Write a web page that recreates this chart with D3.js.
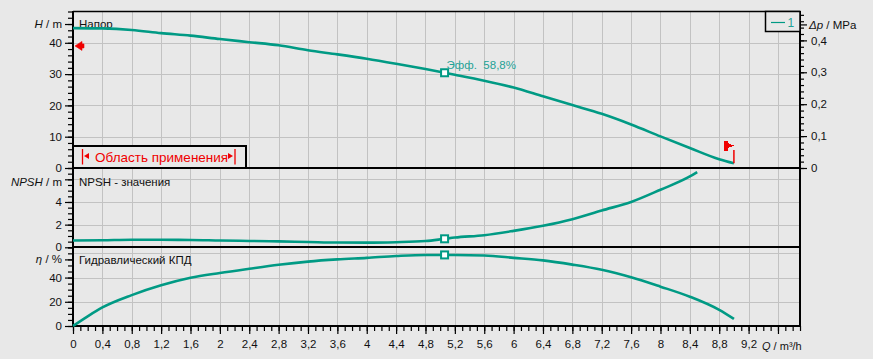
<!DOCTYPE html>
<html><head><meta charset="utf-8">
<script src="https://cdn.jsdelivr.net/npm/d3@7"></script>
<style>
body{margin:0;background:#e8e8e8}
svg{display:block;font-family:"Liberation Sans",Arial,sans-serif}
text{white-space:pre}
</style>
</head><body><svg id="c" width="873" height="359"></svg>
<script>
// ---- data ----
const qHead = [0,0.4,0.8,1.2,1.6,2.0,2.4,2.8,3.2,3.6,4.0,4.4,4.8,5.2,5.6,6.0,6.4,6.8,7.2,7.6,8.0,8.4,8.8,9.0];
const headM = [44.7,44.6,44.1,43.1,42.3,41.2,40.2,39.2,37.6,36.3,34.9,33.3,31.6,29.8,27.9,25.7,22.9,20.1,17.3,13.9,10.1,6.4,2.8,1.5];
const qNpsh = [0,0.4,0.8,1.2,1.6,2.0,2.4,2.8,3.2,3.6,4.0,4.4,4.8,5.06,5.2,5.6,6.0,6.4,6.8,7.2,7.6,8.0,8.4,8.5];
const npshM = [0.6,0.62,0.66,0.66,0.65,0.6,0.56,0.52,0.47,0.42,0.41,0.45,0.55,0.75,0.86,1.07,1.45,1.9,2.48,3.25,4.0,5.08,6.25,6.64];
const qEff = [0,0.2,0.4,0.8,1.2,1.6,2.0,2.4,2.8,3.2,3.6,4.0,4.4,4.8,5.2,5.6,6.0,6.4,6.8,7.2,7.6,8.0,8.4,8.8,9.0];
const effPct = [0,8,15.3,25.5,33.6,39.8,43.8,47.3,50.6,53.2,55.0,56.3,57.8,58.7,58.7,58.2,56.3,54.2,50.7,46.4,40.2,32.5,24.2,13.3,5.8];
const dutyQ = 5.06;           // best efficiency point marker
const dutyLabel = "Эфф.  58,8%";
const rangeStartH = 39;       // left red marker on head axis
const rangeEndQ = 9.0;        // right red flag
const qTickLabels = [0,0.4,0.8,1.2,1.6,2,2.4,2.8,3.2,3.6,4,4.4,4.8,5.2,5.6,6,6.4,6.8,7.2,7.6,8,8.4,8.8,9.2];
const hTickLabels = [0,10,20,30,40];
const npshTickLabels = [0,2,4];
const effTickLabels = [0,20,40];
const dpTickLabels = [0,0.1,0.2,0.3,0.4];
const legendLabel = "1";

// ---- layout ----
const svg = d3.select("#c");
const L = 73, R = 800;
const teal = "#009a84", red = "#f00000", grid = "#c2c2c2", ink = "#111";
const FS = 11.5;
const x = d3.scaleLinear([0, 9.9], [L, R]);
const yH = d3.scaleLinear([0, 50], [168, 11.5]);
const yP = d3.scaleLinear([0, 0.4905], [168, 11.5]);
const yN = d3.scaleLinear([0, 7], [247.3, 168]);
const yE = d3.scaleLinear([0, 65], [326, 247.3]);
const fmt = v => String(Math.round(v*100)/100).replace(".", ",");
const r = v => Math.round(v) + 0.5;

svg.append("rect").attr("width", 873).attr("height", 359).attr("fill", "#e8e8e8");

// grid
const g = svg.append("g").attr("stroke", grid).attr("stroke-width", 1);
const vq = d3.range(1, 25).map(i => i*0.4);
g.selectAll("line.v").data(vq).join("line")
  .attr("x1", d => r(x(d))).attr("x2", d => r(x(d))).attr("y1", 11.5).attr("y2", 326);
const hg = [[yH,10],[yH,20],[yH,30],[yH,40],[yN,2],[yN,4],[yN,6],[yE,20],[yE,40],[yE,60]];
g.selectAll("line.h").data(hg).join("line")
  .attr("x1", L).attr("x2", R).attr("y1", d => r(d[0](d[1]))).attr("y2", d => r(d[0](d[1])));

// frame lines
const fr = svg.append("g").attr("stroke", "#000");
fr.append("line").attr("x1", L).attr("x2", R).attr("y1", 11.5).attr("y2", 11.5).attr("stroke-width", 1.5);
[168, 247.3, 326].forEach(yy => fr.append("line").attr("x1", L-1).attr("x2", R+1).attr("y1", Math.round(yy)).attr("y2", Math.round(yy)).attr("stroke-width", 2));
fr.append("line").attr("x1", L).attr("x2", L).attr("y1", 11).attr("y2", 327).attr("stroke-width", 2);
fr.append("line").attr("x1", R).attr("x2", R).attr("y1", 11).attr("y2", 327).attr("stroke-width", 2);

// axes helper
function ax(axisFn, scale, minor, major, labels, transform, minorLen, majorLen, pad) {
  const a1 = svg.append("g").attr("transform", transform)
    .call(axisFn(scale).tickValues(minor).tickSize(minorLen).tickFormat(""));
  const a2 = svg.append("g").attr("transform", transform)
    .call(axisFn(scale).tickValues(major).tickSize(majorLen).tickPadding(pad)
      .tickFormat(d => labels.includes(d) ? fmt(d) : ""));
  [a1, a2].forEach(a => {
    a.select(".domain").remove();
    a.selectAll("line").attr("stroke", "#000").attr("stroke-width", 1.2);
    a.selectAll("text").attr("font-size", FS).attr("fill", ink).attr("font-family", "Liberation Sans, Arial, sans-serif");
  });
}
const rng = (a, b, s) => d3.range(Math.round(a/s), Math.round(b/s)+1).map(i => Math.round(i*s*1000)/1000);
ax(d3.axisLeft, yH, rng(0,50,2), [0,10,20,30,40,46], hTickLabels, `translate(${L},0)`, 5, 8, 3);
ax(d3.axisLeft, yN, rng(0,7,0.5), [0,2,4,6], npshTickLabels, `translate(${L},0)`, 5, 8, 3);
ax(d3.axisLeft, yE, rng(0,65,5), [0,20,40,55], effTickLabels, `translate(${L},0)`, 5, 8, 3);
ax(d3.axisRight, yP, rng(0,0.48,0.02), [0,0.1,0.2,0.3,0.4,0.45], dpTickLabels, `translate(${R},0)`, 4, 7, 4);
ax(d3.axisBottom, x, rng(0,9.9,0.1), rng(0,9.6,0.4), qTickLabels, `translate(0,326)`, 5, 8, 6);

// axis titles
function title(xx, yy, parts, anchor, fs) {
  const t = svg.append("text").attr("x", xx).attr("y", yy).attr("font-size", fs || FS)
    .attr("fill", ink).attr("text-anchor", anchor);
  parts.forEach(p => t.append("tspan").attr("font-style", p[1] ? "italic" : null).text(p[0]));
}
title(62, 28, [["H",1],[" / m",0]], "end");
title(62, 185.5, [["NPSH",1],[" / m",0]], "end");
title(62, 263, [["η",1],[" / %",0]], "end");
title(809, 29, [["Δp",1],[" / MPa",0]], "start");
title(762, 349.5, [["Q",1],[" / m³/h",0]], "start", 11);

// panel titles
[["Напор", 28], ["NPSH - значения", 185.5], ["Гидравлический КПД", 264]].forEach(d =>
  svg.append("text").attr("x", 79).attr("y", d[1]).attr("font-size", FS).attr("fill", ink).text(d[0]));

// curves
const curves = [[qHead, headM, yH], [qNpsh, npshM, yN], [qEff, effPct, yE]];
curves.forEach(([qs, vs, ys]) => {
  const line = d3.line().x(d => x(d[0])).y(d => ys(d[1])).curve(d3.curveMonotoneX);
  svg.append("path").attr("d", line(qs.map((q, i) => [q, vs[i]])))
    .attr("fill", "none").attr("stroke", teal).attr("stroke-width", 2.6);
});

// duty markers
const interp = (qs, vs, q) => d3.scaleLinear(qs, vs)(q);
curves.forEach(([qs, vs, ys]) => {
  const cx = x(dutyQ), cy = ys(interp(qs, vs, dutyQ));
  svg.append("rect").attr("x", cx-3.5).attr("y", cy-3.5).attr("width", 7).attr("height", 7)
    .attr("fill", "#fff").attr("stroke", teal).attr("stroke-width", 2);
});
svg.append("text").attr("x", x(dutyQ)+2).attr("y", yH(interp(qHead, headM, dutyQ))-3.5)
  .attr("font-size", FS).attr("fill", "#1fa296").text(dutyLabel);

// range box
svg.append("rect").attr("x", L).attr("y", 146).attr("width", 173).attr("height", 22)
  .attr("fill", "#e8e8e8").attr("stroke", "#000").attr("stroke-width", 2);
svg.append("line").attr("x1", 82.5).attr("x2", 82.5).attr("y1", 149).attr("y2", 164.5).attr("stroke", red).attr("stroke-width", 1.3);
svg.append("path").attr("d", "M84,156 L89,153 L89,159 Z").attr("fill", red);
svg.append("path").attr("d", "M233,156 L228,153 L228,159 Z").attr("fill", red);
svg.append("line").attr("x1", 235).attr("x2", 235).attr("y1", 149).attr("y2", 164.5).attr("stroke", red).attr("stroke-width", 1.3);
svg.append("text").attr("x", 95).attr("y", 161.5).attr("font-size", 13.5).attr("fill", red).text("Область применения");

// left red marker on head axis
const my = yH(rangeStartH);
svg.append("path").attr("d", `M75,${my} L82,${my-4.5} L82,${my-2} L84,${my-2} L84,${my+2} L82,${my+2} L82,${my+4.5} Z`)
  .attr("fill", red).attr("stroke", red).attr("stroke-width", 0.6);
// right red flag at end of curve
const fx = x(rangeEndQ), fyEnd = yH(interp(qHead, headM, rangeEndQ));
svg.append("line").attr("x1", fx).attr("x2", fx).attr("y1", fyEnd).attr("y2", 150).attr("stroke", red).attr("stroke-width", 1.5);
svg.append("path").attr("d", `M${fx-10},140.5 L${fx-6},140.5 L${fx-6},143 L${fx},145.5 L${fx-6},148 L${fx-6},150.5 L${fx-10},150.5 Z`)
  .attr("fill", red).attr("shape-rendering", "crispEdges");

// legend box
svg.append("rect").attr("x", 765.5).attr("y", 11.5).attr("width", 34.5).attr("height", 20)
  .attr("fill", "#e8e8e8").attr("stroke", "#000").attr("stroke-width", 1.5);
svg.append("line").attr("x1", 771).attr("x2", 785).attr("y1", 22.5).attr("y2", 22.5).attr("stroke", teal).attr("stroke-width", 1.2);
svg.append("text").attr("x", 787.5).attr("y", 26.5).attr("font-size", 12).attr("fill", "#1fa296").text(legendLabel);
</script>
</body></html>
